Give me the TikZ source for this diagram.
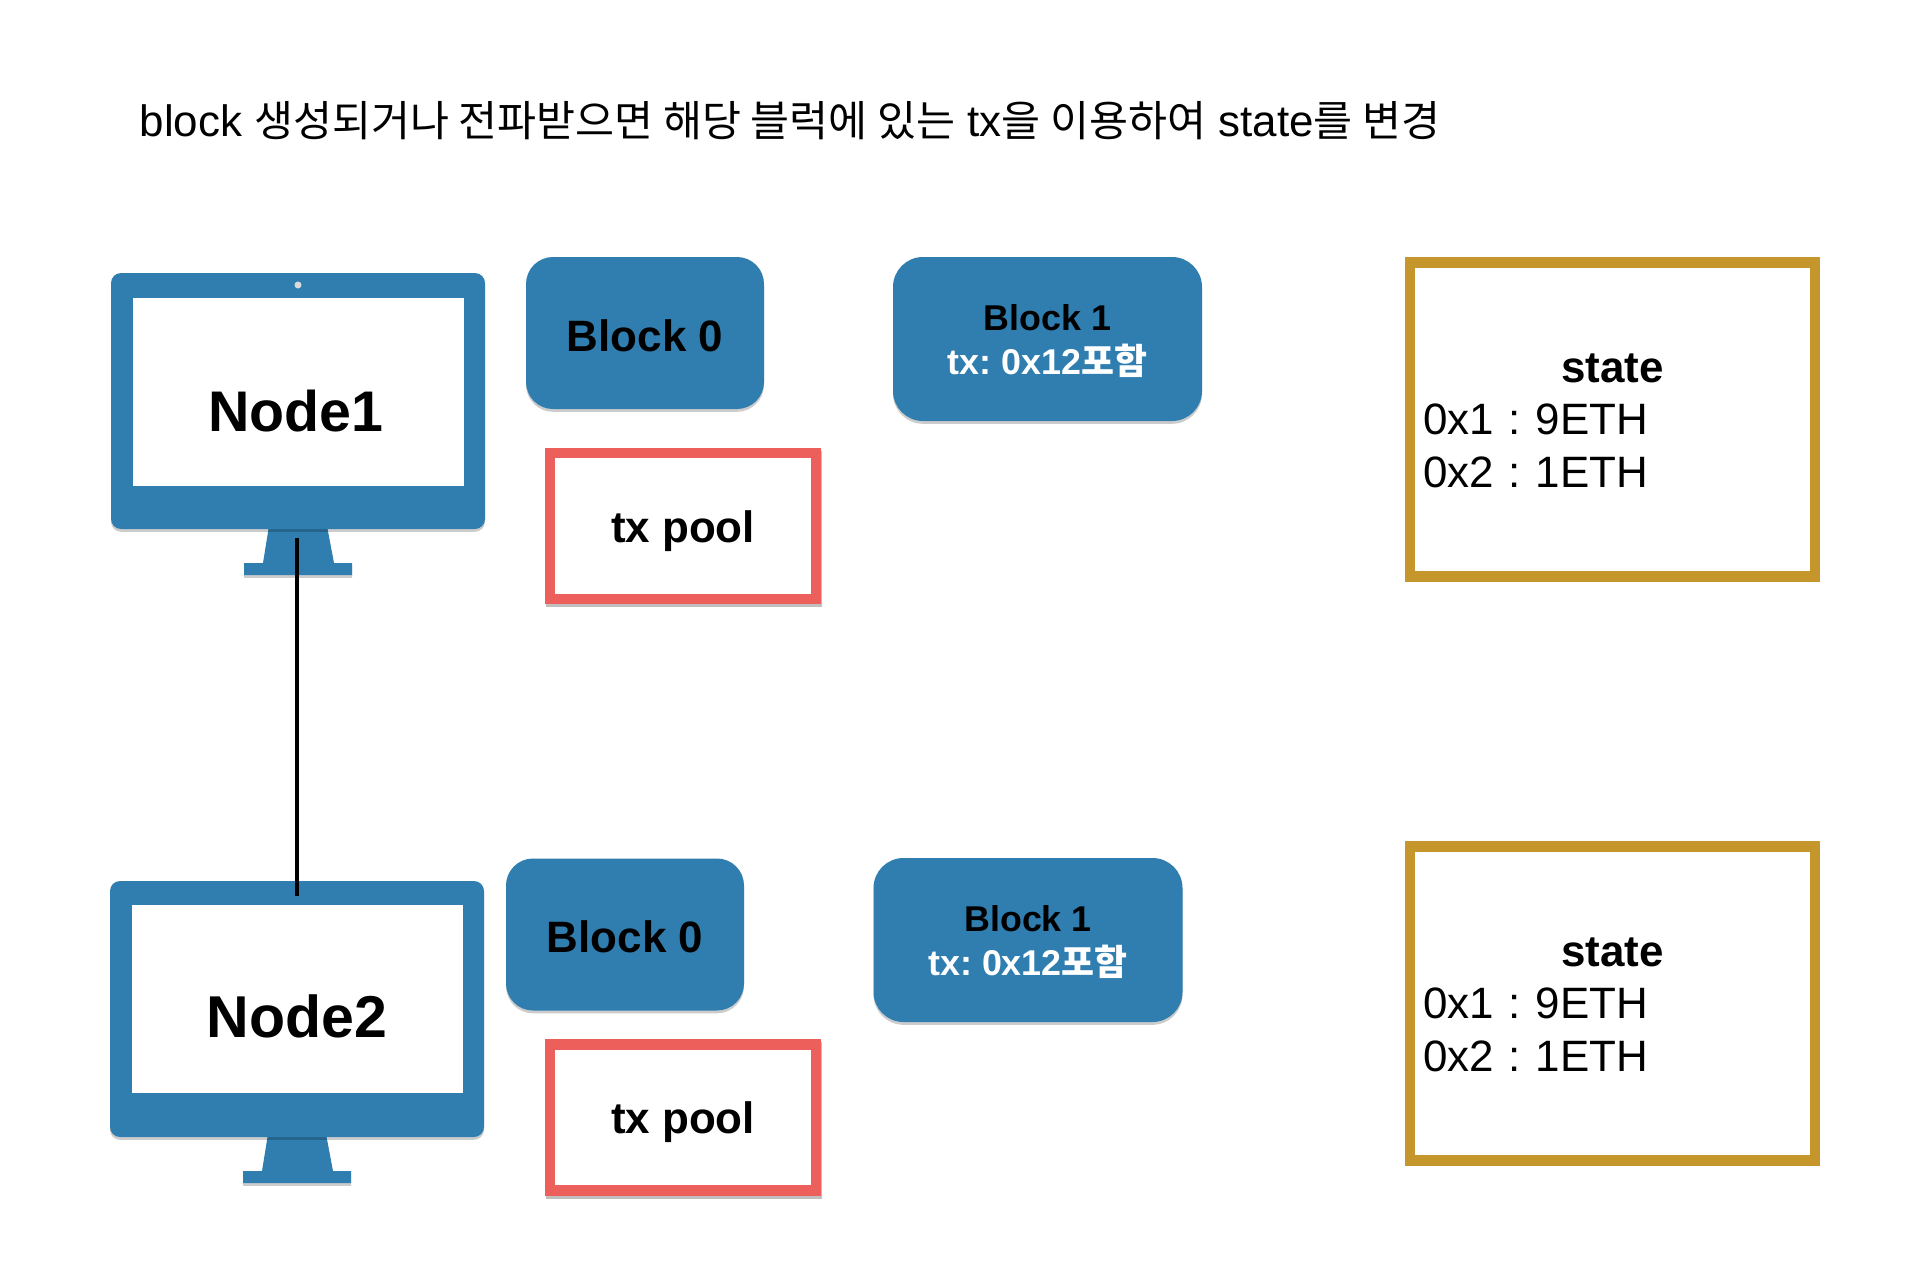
\documentclass[tikz,border=0pt]{standalone}
\usepackage{fontspec}
\setmainfont{Liberation Sans}
\newfontfamily\cjk{Noto Sans CJK KR}
\newfontfamily\cjktitle[Scale=0.965]{Noto Sans CJK KR}
\usetikzlibrary{positioning,shadows}
\definecolor{nodeblue}{HTML}{2F7EAF}
\definecolor{poolred}{HTML}{EC5F5B}
\definecolor{stategold}{HTML}{C5962C}
\tikzset{
  softshadow/.style={drop shadow={shadow xshift=0pt, shadow yshift=-0.8pt, opacity=0.2, fill=black}},
  poolshadow/.style={drop shadow={shadow xshift=0.3pt, shadow yshift=-0.8pt, opacity=0.25, fill=none, draw=black, line width=0.105cm}},
  monitor/.style={fill=nodeblue, rounded corners=0.1cm, minimum width=3.74cm, minimum height=2.56cm, inner sep=0, softshadow},
  screen/.style={fill=white, minimum width=3.31cm, minimum height=1.88cm, inner sep=0},
  nodelabel/.style={font=\fontsize{16.3}{19}\selectfont\bfseries, inner sep=0},
  blockzero/.style={fill=nodeblue, rounded corners=0.27cm, minimum width=2.38cm, minimum height=1.52cm, inner sep=0, softshadow, text height=10.5pt, text depth=0.2pt, font=\fontsize{12.5}{15}\selectfont\bfseries},
  blockone/.style={fill=nodeblue, rounded corners=0.3cm, minimum width=3.09cm, minimum height=1.64cm, inner sep=0, softshadow, align=center, font=\fontsize{10.2}{12.5}\selectfont\bfseries},
  poolbox/.style={draw=poolred, fill=white, line width=0.105cm, minimum width=2.66cm, minimum height=1.46cm, inner sep=0, text height=11.9pt, text depth=2.6pt, poolshadow, font=\fontsize{12.5}{15}\selectfont\bfseries},
  statebox/.style={draw=stategold, fill=white, line width=0.105cm, minimum width=4.05cm, minimum height=3.14cm, inner sep=0, text width=3.78cm, align=left, font=\fontsize{12.5}{15}\selectfont}
}
\begin{document}
\frenchspacing
\begin{tikzpicture}
    \useasboundingbox (0,0) rectangle (19.32,12.66);
    \node[anchor=west, inner sep=0, font=\fontsize{12.5}{15}\selectfont] (title) at (1.39,11.45) {block {\cjktitle 생성되거나 전파받으면 해당 블럭에 있는} tx{\cjktitle 을 이용하여} state{\cjktitle 를 변경}};
    % first machine
    \fill[nodeblue, softshadow] (2.69,7.40) -- (2.63,7.03) -- (2.44,7.03) -- (2.44,6.91) -- (3.52,6.91) -- (3.52,7.03) -- (3.34,7.03) -- (3.27,7.40) -- cycle;
    \node[monitor] (monitor1) at (2.98,8.65) {};
    \node[screen] (screen1) at (2.98,8.74) {};
    \fill[white!70!gray] (2.98,9.81) circle (0.035);
    \node[nodelabel] (node1) at (2.96,8.55) {Node1};
    \node[blockzero] (block0a) at (6.45,9.33) {Block 0};
    \node[blockone] (block1a) at (10.475,9.27) {\rule{0pt}{8.55pt}Block 1\\ \textcolor{white}{tx: 0x12{\cjk 포함}}};
    \node[poolbox] (poola) at (6.83,7.40) {tx pool};
    \node[statebox] (statea) at (16.125,8.465) {\makebox[\linewidth]{\rule{0pt}{8.8pt}\textbf{state}}\\ 0x1 : 9ETH\\ 0x2 : 1ETH};
    % second machine
    \fill[nodeblue, softshadow] (2.68,1.32) -- (2.62,0.95) -- (2.43,0.95) -- (2.43,0.83) -- (3.51,0.83) -- (3.51,0.95) -- (3.33,0.95) -- (3.26,1.32) -- cycle;
    \node[monitor] (monitor2) at (2.97,2.57) {};
    \node[screen] (screen2) at (2.97,2.67) {};
    \node[nodelabel, font=\fontsize{16.8}{19}\selectfont\bfseries] (node2) at (2.97,2.50) {Node2};
    \node[blockzero] (block0b) at (6.25,3.315) {Block 0};
    \node[blockone] (block1b) at (10.28,3.26) {\rule{0pt}{8.55pt}Block 1\\ \textcolor{white}{tx: 0x12{\cjk 포함}}};
    \node[poolbox] (poolb) at (6.83,1.485) {tx pool};
    \node[statebox] (stateb) at (16.125,2.625) {\makebox[\linewidth]{\rule{0pt}{8.8pt}\textbf{state}}\\ 0x1 : 9ETH\\ 0x2 : 1ETH};
    % link between the machines
    \coordinate (linktop) at (2.97,7.28);
    \coordinate (linkbottom) at (2.97,3.70);
    \draw[black, line width=0.035cm] (linktop) -- (linkbottom);
\end{tikzpicture}
\end{document}
